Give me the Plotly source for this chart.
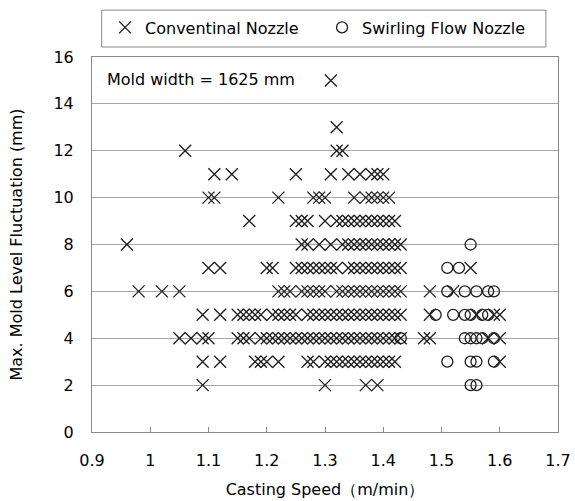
import plotly.graph_objects as go

# Conventional nozzle: casting speed values (m/min) for each fluctuation level (mm)
conv_2 = [1.09, 1.30, 1.37, 1.39]
conv_3 = [1.09, 1.12, 1.18, 1.19, 1.20, 1.22, 1.27, 1.28, 1.30, 1.31, 1.32, 1.33, 1.34,
          1.35, 1.36, 1.37, 1.38, 1.39, 1.40, 1.41, 1.42, 1.60]
conv_4 = [1.05, 1.07, 1.09, 1.10, 1.15, 1.16, 1.17, 1.19, 1.20, 1.21, 1.22, 1.23, 1.24,
          1.25, 1.26, 1.27, 1.28, 1.29, 1.30, 1.31, 1.32, 1.33, 1.34, 1.35, 1.36, 1.37,
          1.38, 1.39, 1.40, 1.41, 1.42, 1.43, 1.47, 1.48, 1.58, 1.60]
conv_5 = [1.09, 1.12, 1.15, 1.16, 1.17, 1.18, 1.19, 1.21, 1.22, 1.23, 1.24, 1.25, 1.27,
          1.28, 1.29, 1.30, 1.31, 1.32, 1.33, 1.34, 1.35, 1.36, 1.37, 1.38, 1.39, 1.40,
          1.41, 1.42, 1.43, 1.48, 1.56, 1.59, 1.60]
conv_6 = [0.98, 1.02, 1.05, 1.22, 1.23, 1.24, 1.26, 1.27, 1.28, 1.29, 1.30, 1.32, 1.33,
          1.34, 1.35, 1.36, 1.37, 1.38, 1.39, 1.40, 1.41, 1.42, 1.43, 1.48, 1.52]
conv_7 = [1.10, 1.12, 1.20, 1.21, 1.25, 1.26, 1.27, 1.28, 1.29, 1.30, 1.31, 1.32, 1.34,
          1.35, 1.36, 1.37, 1.38, 1.39, 1.40, 1.41, 1.42, 1.43, 1.55]
conv_8 = [0.96, 1.26, 1.27, 1.29, 1.31, 1.33, 1.34, 1.35, 1.36, 1.37, 1.38, 1.39, 1.40,
          1.41, 1.42, 1.43]
conv_9 = [1.17, 1.25, 1.26, 1.27, 1.30, 1.32, 1.33, 1.34, 1.35, 1.36, 1.37, 1.38, 1.39,
          1.40, 1.41, 1.42]
conv_10 = [1.10, 1.11, 1.22, 1.28, 1.29, 1.30, 1.35, 1.37, 1.38, 1.39, 1.40, 1.41]
conv_11 = [1.11, 1.14, 1.25, 1.31, 1.34, 1.36, 1.38, 1.39, 1.40]
conv_12 = [1.06, 1.32, 1.33]
conv_13 = [1.32]
conv_15 = [1.31]

# Swirling flow nozzle
swirl_2 = [1.55, 1.56]
swirl_3 = [1.51, 1.55, 1.56, 1.59]
swirl_4 = [1.43, 1.54, 1.55, 1.56, 1.57, 1.59]
swirl_5 = [1.49, 1.52, 1.54, 1.55, 1.57, 1.58]
swirl_6 = [1.51, 1.54, 1.56, 1.58, 1.59]
swirl_7 = [1.51, 1.53]
swirl_8 = [1.55]

conv_rows = [(2, conv_2), (3, conv_3), (4, conv_4), (5, conv_5), (6, conv_6), (7, conv_7),
             (8, conv_8), (9, conv_9), (10, conv_10), (11, conv_11), (12, conv_12),
             (13, conv_13), (15, conv_15)]
swirl_rows = [(2, swirl_2), (3, swirl_3), (4, swirl_4), (5, swirl_5), (6, swirl_6),
              (7, swirl_7), (8, swirl_8)]

conv_x, conv_y = [], []
for lvl, xs in conv_rows:
    conv_x += xs
    conv_y += [lvl] * len(xs)
swirl_x, swirl_y = [], []
for lvl, xs in swirl_rows:
    swirl_x += xs
    swirl_y += [lvl] * len(xs)

x_ticks = [0.9, 1.0, 1.1, 1.2, 1.3, 1.4, 1.5, 1.6, 1.7]
x_tick_text = ["0.9", "1", "1.1", "1.2", "1.3", "1.4", "1.5", "1.6", "1.7"]

FONT = "DejaVu Sans"
INK = "#1e1e1e"

fig = go.Figure()
fig.add_trace(go.Scatter(
    x=conv_x, y=conv_y, mode="markers", name="Conventinal Nozzle",
    marker=dict(symbol="x-thin", size=12, color=INK, line=dict(width=1.3, color=INK)),
))
fig.add_trace(go.Scatter(
    x=swirl_x, y=swirl_y, mode="markers", name="Swirling Flow Nozzle",
    marker=dict(symbol="circle-open", size=11, color=INK, line=dict(width=1.3, color=INK)),
))

fig.update_layout(
    width=575, height=501,
    margin=dict(l=92, r=17, t=56, b=69),
    paper_bgcolor="white", plot_bgcolor="white",
    font=dict(family=FONT, size=16, color="black"),
    showlegend=True,
    legend=dict(
        orientation="h", x=0.028, xanchor="left", y=1.0758, yanchor="middle",
        entrywidth=172, bgcolor="rgba(0,0,0,0)", borderwidth=0,
        font=dict(family=FONT, size=16, color="black"),
    ),
    xaxis=dict(
        range=[0.9, 1.7], tickvals=x_ticks, ticktext=x_tick_text,
        showgrid=False, zeroline=False, automargin=False,
        showline=True, linecolor="#8a8a8a", linewidth=1, mirror=True,
        ticks="inside", ticklen=5, tickcolor="#8a8a8a",
        ticklabelstandoff=14,
        title=dict(text="Casting Speed（m/min）", font=dict(family=FONT, size=16), standoff=14),
        tickfont=dict(family=FONT, size=16),
    ),
    yaxis=dict(
        range=[0, 16], dtick=2, showgrid=True, gridcolor="#a6a6a6", gridwidth=1,
        zeroline=False, showline=True, linecolor="#8a8a8a", linewidth=1, mirror=True,
        ticks="", ticklabelstandoff=14, automargin=False,
        title=dict(text="Max. Mold Level Fluctuation (mm)", font=dict(family=FONT, size=16), standoff=26),
        tickfont=dict(family=FONT, size=16),
    ),
    shapes=[dict(type="rect", xref="paper", yref="paper", x0=0.0208, x1=0.974,
                 y0=1.0266, y1=1.125, line=dict(color="#8a8a8a", width=1),
                 fillcolor="rgba(0,0,0,0)")],
    annotations=[dict(text="Mold width = 1625 mm", xref="paper", yref="paper",
                      x=0.028, y=0.939, xanchor="left", yanchor="middle", showarrow=False,
                      font=dict(family=FONT, size=16, color="black"))],
)

fig.write_html("out.html")
